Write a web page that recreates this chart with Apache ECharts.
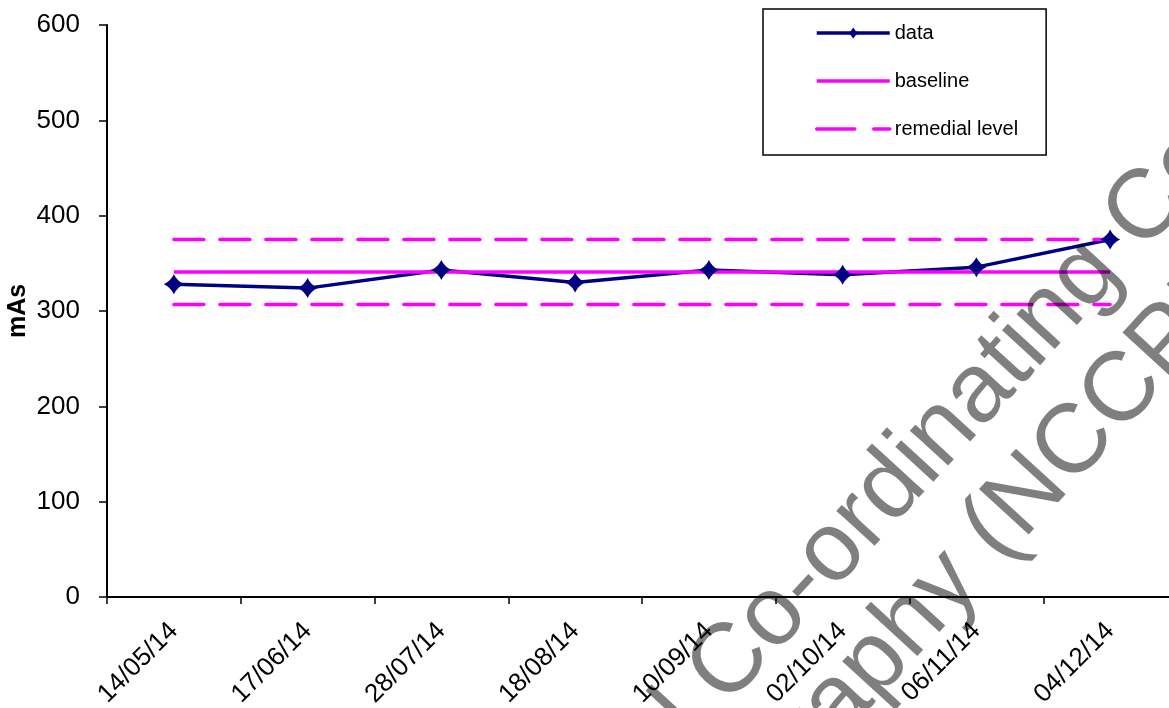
<!DOCTYPE html>
<html>
<head>
<meta charset="utf-8">
<script src="https://cdn.jsdelivr.net/npm/echarts@6/dist/echarts.min.js"></script>
<style>
html,body{margin:0;padding:0;background:#fff;}
#chart{width:1169px;height:708px;}
</style>
</head>
<body>
<div id="chart"></div>
<script>
const categories = ['14/05/14','17/06/14','28/07/14','18/08/14','10/09/14','02/10/14','06/11/14','04/12/14'];
const dataValues = [328, 324, 343, 330, 343, 338, 346, 375];
const baselineValues = [341, 341, 341, 341, 341, 341, 341, 341];
const remedialUpper = [375.1, 375.1, 375.1, 375.1, 375.1, 375.1, 375.1, 375.1];
const remedialLower = [306.9, 306.9, 306.9, 306.9, 306.9, 306.9, 306.9, 306.9];
const yTicks = {min: 0, max: 600, interval: 100};
const watermarkLine1 = 'National Co-ordinating Centre';
const watermarkLine2 = 'Physics of Mammography (NCCPM)';

const FONT = "'Liberation Sans', Arial, sans-serif";
const chart = echarts.init(document.getElementById('chart'), null, {renderer: 'canvas'});
const diamond = 'path://M10,0 Q13.2,6.8 20,10 Q13.2,13.2 10,20 Q6.8,13.2 0,10 Q6.8,6.8 10,0 Z';
const DASH = [30, 16];

chart.setOption({
  animation: false,
  backgroundColor: '#ffffff',
  grid: {left: 107, top: 25, width: 1070, height: 572, containLabel: false, outerBoundsMode: 'none'},
  legend: {
    orient: 'vertical',
    left: 763, top: 9,
    padding: [14, 28, 16, 52],
    itemGap: 28,
    itemWidth: 73, itemHeight: 14,
    backgroundColor: '#ffffff',
    borderColor: '#000000', borderWidth: 1.5,
    textStyle: {fontFamily: FONT, fontSize: 20, color: '#000'},
    data: [
      {name: 'data', lineStyle: {width: 3.5, color: '#000080'}},
      {name: 'baseline', itemStyle: {opacity: 0}, lineStyle: {width: 3.5, color: '#FF00FF'}},
      {name: 'remedial level', itemStyle: {opacity: 0}, lineStyle: {width: 3.5, color: '#FF00FF', type: [38, 19]}}
    ]
  },
  xAxis: {
    type: 'category',
    data: categories,
    boundaryGap: true,
    axisLine: {lineStyle: {color: '#000', width: 2}},
    axisTick: {show: true, inside: false, length: 7, alignWithLabel: false, lineStyle: {color: '#000', width: 1.5}},
    axisLabel: {rotate: 45, margin: 30, fontFamily: FONT, fontSize: 26, color: '#000', interval: 0},
    splitLine: {show: false}
  },
  yAxis: {
    type: 'value',
    min: yTicks.min, max: yTicks.max, interval: yTicks.interval,
    name: 'mAs',
    nameLocation: 'middle',
    nameRotate: 90,
    nameGap: 76,
    nameMoveOverlap: false,
    nameTextStyle: {fontFamily: FONT, fontSize: 25, fontWeight: 'bold', color: '#000'},
    axisLine: {show: true, lineStyle: {color: '#000', width: 2}},
    axisTick: {show: true, inside: false, length: 8, lineStyle: {color: '#000', width: 1.5}},
    axisLabel: {margin: 27, fontFamily: FONT, fontSize: 26, color: '#000'},
    splitLine: {show: false}
  },
  series: [
    {
      name: 'data', type: 'line', data: dataValues,
      symbol: diamond, symbolSize: 20,
      itemStyle: {color: '#000080'},
      lineStyle: {color: '#000080', width: 3.5}
    },
    {
      name: 'baseline', type: 'line', data: baselineValues,
      symbol: 'none', showSymbol: false,
      itemStyle: {color: '#FF00FF'},
      lineStyle: {color: '#FF00FF', width: 3.5}
    },
    {
      name: 'remedial level', type: 'line', data: remedialUpper,
      symbol: 'none', showSymbol: false,
      itemStyle: {color: '#FF00FF'},
      lineStyle: {color: '#FF00FF', width: 3.5, type: DASH, cap: 'round'}
    },
    {
      name: 'remedial level', type: 'line', data: remedialLower,
      symbol: 'none', showSymbol: false,
      itemStyle: {color: '#FF00FF'},
      lineStyle: {color: '#FF00FF', width: 3.5, type: DASH, cap: 'round'}
    }
  ],
  graphic: [{
    type: 'group',
    x: 802, y: 585,
    rotation: 47.5 * Math.PI / 180,
    z: 100,
    silent: true,
    children: [
      {type: 'text', z: 100, style: {x: -528, y: 0, text: watermarkLine1, align: 'left', verticalAlign: 'middle',
        font: "98px 'Liberation Sans', Arial, sans-serif", fill: 'rgba(0,0,0,0.5)'}},
      {type: 'text', z: 100, style: {x: -1005, y: 106, text: watermarkLine2, align: 'left', verticalAlign: 'middle',
        font: "98px 'Liberation Sans', Arial, sans-serif", fill: 'rgba(0,0,0,0.5)'}}
    ]
  }]
});
</script>
</body>
</html>
